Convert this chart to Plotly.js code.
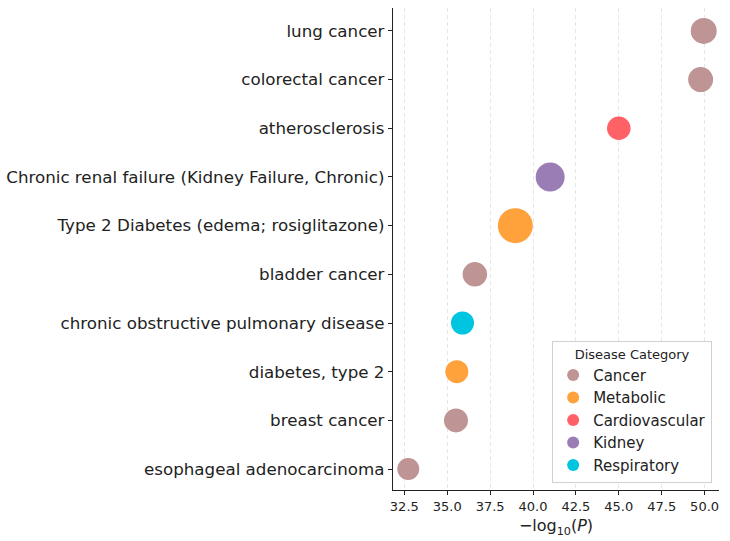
<!DOCTYPE html>
<html>
<head>
<meta charset="utf-8">
<script src="https://cdn.plot.ly/plotly-3.0.1.min.js"></script>
<style>html,body{margin:0;padding:0;background:#fff;}#chart{width:730px;height:541px;}</style>
</head>
<body>
<div id="chart"></div>
<script>
// Data (top row first)
const diseases = [
  "lung cancer",
  "colorectal cancer",
  "atherosclerosis",
  "Chronic renal failure (Kidney Failure, Chronic)",
  "Type 2 Diabetes (edema; rosiglitazone)",
  "bladder cancer",
  "chronic obstructive pulmonary disease",
  "diabetes, type 2",
  "breast cancer",
  "esophageal adenocarcinoma"
];
const negLogP = [49.95, 49.77, 45.0, 41.0, 38.97, 36.61, 35.89, 35.56, 35.51, 32.73];
const categoryOf = ["Cancer", "Cancer", "Cardiovascular", "Kidney", "Metabolic", "Cancer", "Respiratory", "Metabolic", "Cancer", "Cancer"];
const bubbleSize = [26, 25, 23.5, 29, 35, 24.5, 23, 23, 24, 22];
const legendOrder = ["Cancer", "Metabolic", "Cardiovascular", "Kidney", "Respiratory"];
const xTicks = [32.5, 35.0, 37.5, 40.0, 42.5, 45.0, 47.5, 50.0];

const colors = {
  "Cancer": "#bf9494",
  "Metabolic": "#ffa23c",
  "Cardiovascular": "#ff6266",
  "Kidney": "#9b7db5",
  "Respiratory": "#00c5e0"
};

const traces = legendOrder.map(cat => {
  const idx = diseases.map((d, i) => i).filter(i => categoryOf[i] === cat);
  return {
    type: "scatter",
    mode: "markers",
    name: cat,
    x: idx.map(i => negLogP[i]),
    y: idx.map(i => diseases[i]),
    marker: {
      color: colors[cat],
      opacity: 1,
      size: idx.map(i => bubbleSize[i]),
      line: {width: 0}
    },
    hoverinfo: "x+y"
  };
});

const layout = {
  width: 730,
  height: 541,
  margin: {l: 393, r: 11, t: 8, b: 51},
  paper_bgcolor: "#fff",
  plot_bgcolor: "#fff",
  font: {family: "DejaVu Sans", color: "#222"},
  showlegend: true,
  legend: {
    x: 0.979, y: 0.015, xanchor: "right", yanchor: "bottom",
    bgcolor: "rgba(255,255,255,0.85)",
    bordercolor: "#d0d0d0", borderwidth: 1,
    font: {size: 15, family: "DejaVu Sans", color: "#222"},
    title: {text: "Disease Category", font: {size: 13, family: "DejaVu Sans", color: "#222"}, side: "top center"},
    itemsizing: "constant",
    tracegroupgap: 0
  },
  xaxis: {
    range: [31.84, 50.84],
    tickmode: "array",
    tickvals: xTicks,
    ticktext: xTicks.map(v => v.toFixed(1)),
    tickfont: {size: 13, family: "DejaVu Sans", color: "#222"},
    ticks: "outside", ticklen: 4, tickcolor: "#222", tickwidth: 1,
    showline: true, linecolor: "#222", linewidth: 1.2,
    showgrid: true, gridcolor: "#e6e6e6", griddash: "4px,3px", gridwidth: 1,
    zeroline: false,
    title: {text: "\u2212log<sub>10</sub>(<i>P</i>)", font: {size: 16, family: "DejaVu Sans", color: "#222"}, standoff: 7}
  },
  yaxis: {
    type: "category",
    categoryorder: "array",
    categoryarray: diseases.slice().reverse(),
    range: [-0.43, 9.47],
    tickfont: {size: 16.7, family: "DejaVu Sans", color: "#222"},
    ticks: "outside", ticklen: 4, tickcolor: "#222", tickwidth: 1,
    showline: true, linecolor: "#222", linewidth: 1.2,
    showgrid: false, zeroline: false
  }
};

Plotly.newPlot("chart", traces, layout, {displayModeBar: false, staticPlot: true});
</script>
</body>
</html>
